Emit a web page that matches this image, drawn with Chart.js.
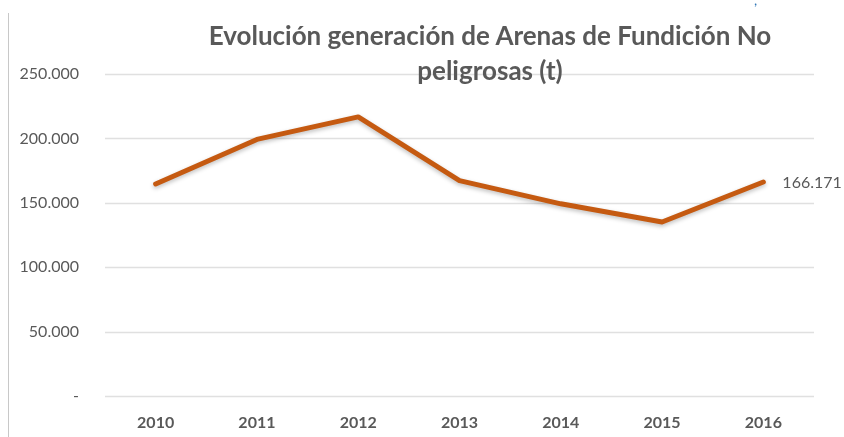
<!DOCTYPE html>
<html>
<head>
<meta charset="utf-8">
<script src="https://cdn.jsdelivr.net/npm/chart.js@4"></script>
<style>
  html, body { margin: 0; padding: 0; background: #fff; }
  #wrap { position: relative; width: 844px; height: 437px; overflow: hidden; }
  #c { position: absolute; left: 0; top: 0; }
  #vline { position: absolute; left: 8px; top: 13px; width: 1px; height: 430px; background: #c8c8c8; }
  #title { position: absolute; left: 140px; width: 700px; top: 18px; text-align: center;
           font-family: Lato, sans-serif; font-weight: bold; font-size: 26px; line-height: 35px; color: #595959; }
  #mark { position: absolute; left: 754px; top: -9px; font-family: Lato, sans-serif; font-size: 14px; color: #2e75b6; }
</style>
</head>
<body>
<div id="wrap">
  <canvas id="c" width="844" height="437"></canvas>
  <div id="vline"></div>
  <div id="title">Evolución generación de Arenas de Fundición No<br>peligrosas (t)</div>
  <div id="mark">,</div>
</div>
<script>
const years = ['2010', '2011', '2012', '2013', '2014', '2015', '2016'];
const generacion = [164600, 199200, 216700, 167200, 149200, 135100, 166171];
const lastLabel = '166.171';

function fmt(v) {
  if (v === 0) return '-';
  return v.toString().replace(/\B(?=(\d{3})+(?!\d))/g, '.');
}

const gridPlugin = {
  id: 'customGrid',
  beforeDatasetsDraw(chart) {
    const y = chart.scales.y;
    const area = chart.chartArea;
    const ctx = chart.ctx;
    ctx.save();
    ctx.strokeStyle = '#e0e0e0';
    ctx.lineWidth = 1.5;
    y.ticks.forEach(t => {
      const py = Math.round(y.getPixelForValue(t.value)) + 0.5;
      ctx.beginPath();
      ctx.moveTo(area.left, py);
      ctx.lineTo(area.right, py);
      ctx.stroke();
    });
    ctx.restore();
  }
};

const shadowPlugin = {
  id: 'shadowLine',
  beforeDatasetDraw(chart) {
    const ctx = chart.ctx;
    ctx.save();
    ctx.shadowColor = 'rgba(0,0,0,0.25)';
    ctx.shadowBlur = 4;
    ctx.shadowOffsetY = 2;
  },
  afterDatasetDraw(chart) {
    chart.ctx.restore();
  }
};

const labelPlugin = {
  id: 'lastLabel',
  afterDatasetsDraw(chart) {
    const meta = chart.getDatasetMeta(0);
    const pt = meta.data[meta.data.length - 1];
    const ctx = chart.ctx;
    ctx.save();
    ctx.font = '16px Lato, sans-serif';
    ctx.fillStyle = '#595959';
    ctx.textAlign = 'left';
    ctx.textBaseline = 'middle';
    ctx.fillText(lastLabel, pt.x + 19, pt.y + 1);
    ctx.restore();
  }
};

new Chart(document.getElementById('c'), {
  type: 'line',
  data: {
    labels: years,
    datasets: [{
      data: generacion,
      borderColor: '#c55a11',
      borderWidth: 5,
      pointRadius: 0,
      tension: 0,
      fill: false,
      borderCapStyle: 'round',
      borderJoinStyle: 'round'
    }]
  },
  options: {
    responsive: false,
    animation: false,
    layout: { padding: { top: 74, right: 30, left: 0, bottom: 0 } },
    plugins: { legend: { display: false }, title: { display: false }, tooltip: { enabled: false } },
    scales: {
      x: {
        offset: true,
        grid: { display: false, drawTicks: false },
        border: { display: false },
        ticks: { color: '#595959', font: { family: 'Lato', size: 16, weight: 'bold' }, padding: 17, maxRotation: 0 },
        afterFit(scale) { scale.height = 41; }
      },
      y: {
        min: 0, max: 250000,
        grid: { display: false, drawTicks: false },
        border: { display: false },
        ticks: { stepSize: 50000, color: '#595959', font: { family: 'Lato', size: 16 }, padding: 26,
                 callback: (v) => fmt(v) },
        afterFit(scale) { scale.width = 105; }
      }
    }
  },
  plugins: [gridPlugin, shadowPlugin, labelPlugin]
});
</script>
</body>
</html>
